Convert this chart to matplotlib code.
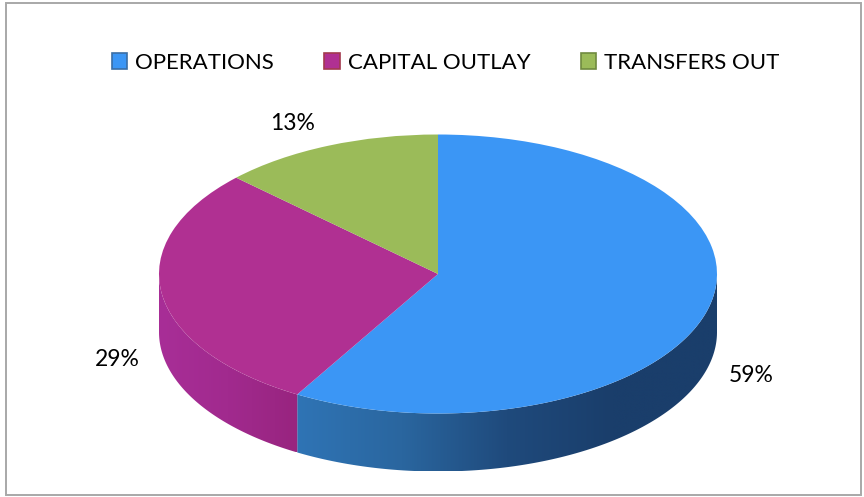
import numpy as np
import matplotlib
matplotlib.use("Agg")
import matplotlib.pyplot as plt
from matplotlib.colors import LinearSegmentedColormap
from matplotlib.patches import Patch, Polygon, Rectangle

categories = ["OPERATIONS", "CAPITAL OUTLAY", "TRANSFERS OUT"]
values = [59, 29, 13]

top_colors = ["#3B96F5", "#B03092", "#9BBB59"]
edge_colors = ["#3A6EA5", "#A33A4E", "#6F8A3F"]
# wall gradient of each slice, left to right on the page
wall_maps = [
    ["#2F74B5", "#2A669F", "#1F4A7C", "#1A3E6B", "#1A3E6B"],
    ["#A82E97", "#A12A8E", "#98247F"],
    ["#7F9A47", "#7F9A47"],
]
W, H = 864, 497
CX, CY, RX, RY, DEPTH = 438, 274, 279, 139.5, 58

plt.rcParams["font.family"] = ["Lato", "DejaVu Sans"]
fig = plt.figure(figsize=(W / 100, H / 100), dpi=100, facecolor="white")
ax = fig.add_axes([0, 0, 1, 1])

wedges, _ = ax.pie(values, colors=top_colors, startangle=90, counterclock=False,
                   radius=1, center=(0, 0), wedgeprops={"linewidth": 0, "zorder": 3})

# side wall of each slice, built from the slice's angular span
depth = DEPTH / RY
bounds = 90 - 360 * np.cumsum([0] + values) / sum(values)
for i, cols in enumerate(wall_maps):
    hi, lo = bounds[i], bounds[i + 1]
    cmap = LinearSegmentedColormap.from_list("w", cols)
    for k in (0, 360):
        s_lo, s_hi = max(lo + k, -180), min(hi + k, 0)
        if s_hi <= s_lo:
            continue
        th = np.radians(np.linspace(s_lo, s_hi, 240))
        x, y = np.cos(th), np.sin(th)
        outline = np.vstack([np.column_stack([x, y]),
                             np.column_stack([x[::-1], y[::-1] - depth])])
        clip = Polygon(outline, closed=True, transform=ax.transData,
                       facecolor="none", edgecolor="none")
        ax.add_patch(clip)
        grad = np.linspace(0, 1, 512)[None, :]
        im = ax.imshow(grad, cmap=cmap, aspect="auto", interpolation="bilinear",
                       extent=[x.min(), x.max(), y.min() - depth, y.max()], zorder=2)
        im.set_clip_path(clip)

ax.set_aspect("auto")
ax.set_xlim(-CX / RX, (W - CX) / RX)
ax.set_ylim((CY - H) / RY, CY / RY)
ax.axis("off")

# percentage labels
label_px = [(751, 376), (117, 360), (293, 124)]
for v, (px, py) in zip(values, label_px):
    fig.text(px / W, 1 - py / H, f"{v}%", ha="center", va="center",
             fontsize=16.5, color="black")

handles = [Patch(facecolor=f, edgecolor=e, linewidth=1.2)
           for f, e in zip(top_colors, edge_colors)]
fig.legend(handles, categories, ncol=3, loc="center", frameon=False,
           bbox_to_anchor=(445.5 / W, 1 - 63 / H), fontsize=16,
           handlelength=0.7, handleheight=0.7, handletextpad=0.35, columnspacing=2.27)

fig.add_artist(Rectangle((5.5 / W, 1 - 495 / H), 855 / W, 492 / H,
                         transform=fig.transFigure, fill=False,
                         edgecolor="#a8a8a8", linewidth=1.4))
fig.savefig("out.png", dpi=100)
